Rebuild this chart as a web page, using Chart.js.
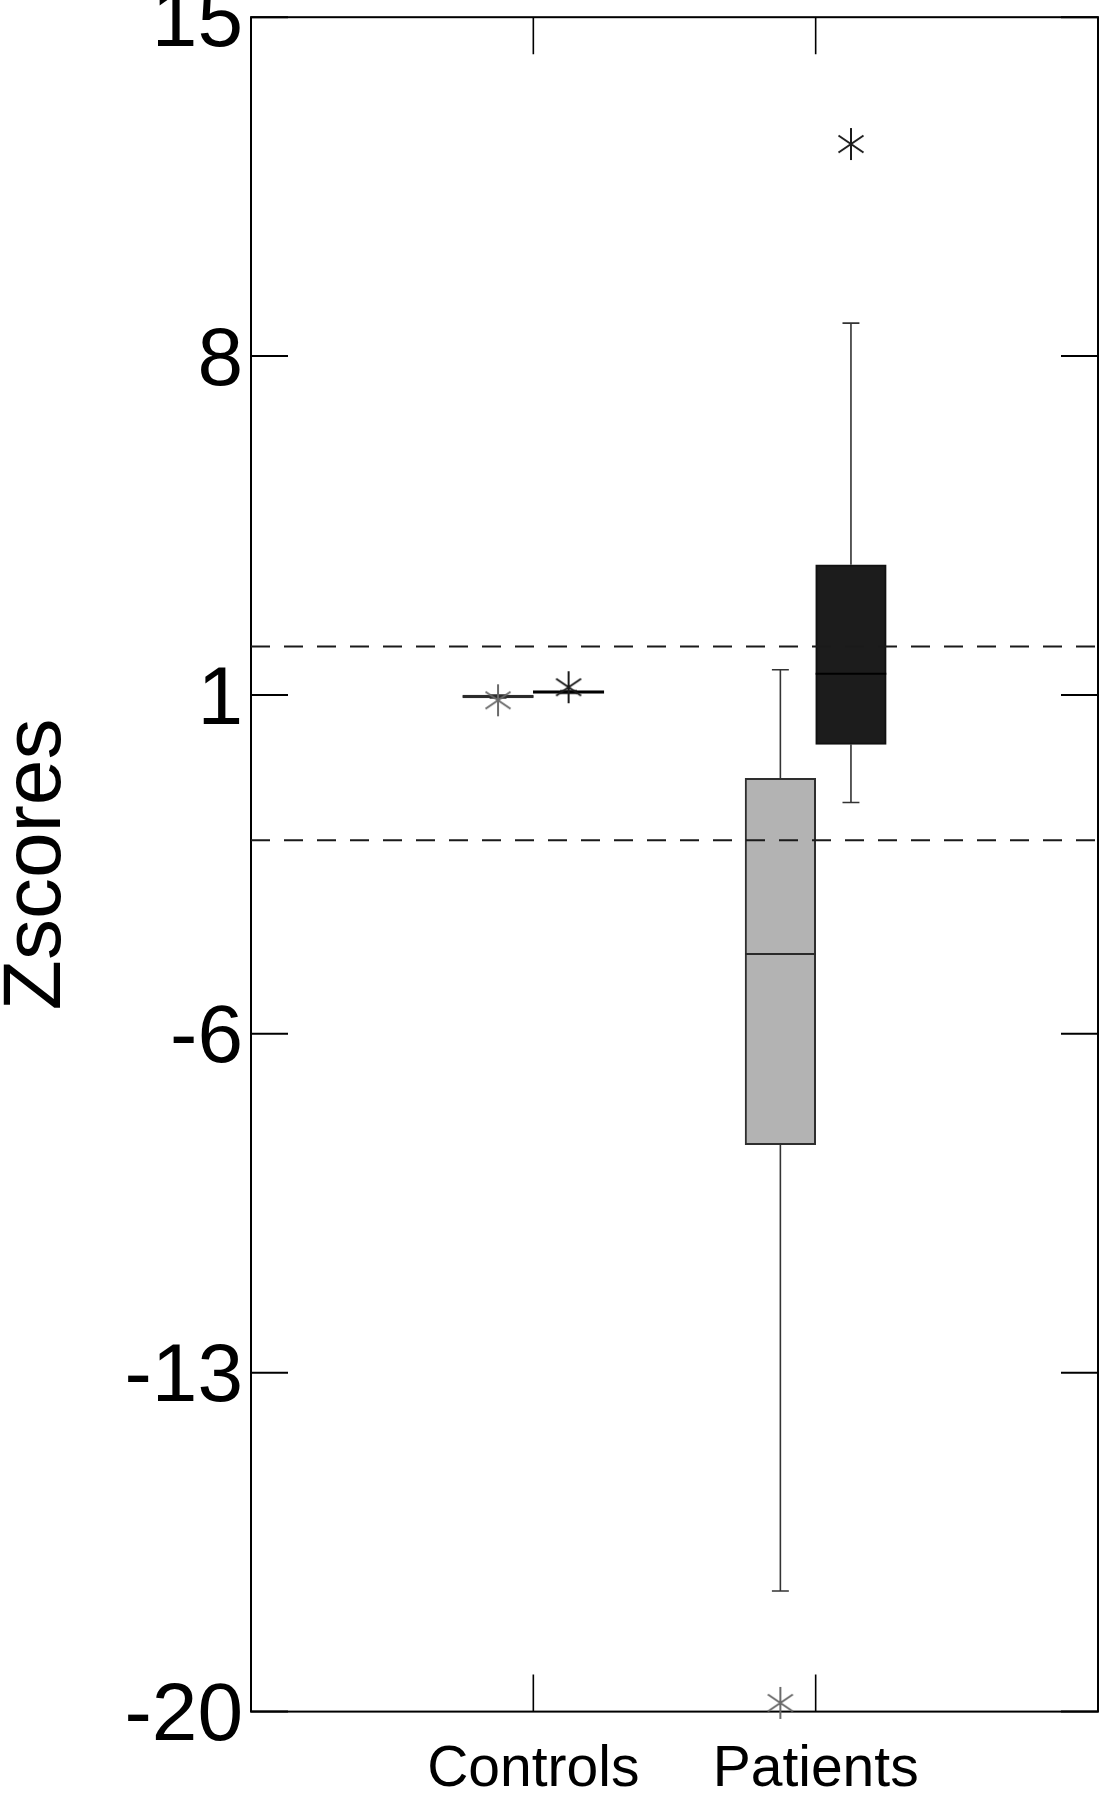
<!DOCTYPE html>
<html><head><meta charset="utf-8">
<script src="https://cdn.jsdelivr.net/npm/chart.js@4.4.1/dist/chart.umd.min.js"></script>
<style>
html,body{margin:0;padding:0;background:#fff;overflow:hidden;width:1111px;height:1800px;}
#wrap{position:absolute;left:0;top:-40px;width:1111px;height:1868px;}
</style></head><body>
<div id="wrap"><canvas id="c" width="1111" height="1868"></canvas></div>
<script>
// ---- data ----
const categories = ['Controls', 'Patients'];
const categoryPositions = [1, 2];
const xAxisRange = [0, 3];
const yAxisRange = [-20, 15];
const yTickValues = [-20, -13, -6, 1, 8, 15];
const referenceLines = [2, -2];

// light (grey) series: left box in each group
const lightLowerWhisker = [0.94, -17.51];
const lightQ1 = [0.94, -8.29];
const lightMedian = [0.97, -4.35];
const lightQ3 = [1.0, -0.72];
const lightUpperWhisker = [1.0, 1.52];
const lightOutliers = [0.89, -19.82];

// dark (black) series: right box in each group
const darkLowerWhisker = [1.03, -1.22];
const darkQ1 = [1.03, -0.02];
const darkMedian = [1.06, 1.44];
const darkQ3 = [1.09, 3.69];
const darkUpperWhisker = [1.09, 8.68];
const darkOutliers = [1.16, 12.38];

// ---- layout / style constants ----
const boxHalf = 0.125;
const capHalf = 0.03;
const tickLen = 37;
const FONT = "'Liberation Sans', Arial, sans-serif";

function makeStar(color) {
  const c = document.createElement('canvas');
  c.width = 36; c.height = 36;
  const g = c.getContext('2d');
  g.strokeStyle = color; g.lineWidth = 2; g.lineCap = 'butt';
  g.translate(18, 18);
  g.beginPath();
  g.moveTo(0, -16); g.lineTo(0, 16);
  g.moveTo(-12.5, -8.5); g.lineTo(12.5, 8.5);
  g.moveTo(-12.5, 8.5); g.lineTo(12.5, -8.5);
  g.stroke();
  return c;
}

function boxDataset(label, q1, q3, offset, fill, border) {
  return {
    type: 'bar', label,
    data: categoryPositions.map((p, i) => ({ x: p + offset, y: [q1[i], q3[i]] })),
    backgroundColor: fill, borderColor: border, borderWidth: 2, borderSkipped: false,
    grouped: false, categoryPercentage: 1, barPercentage: 1, order: 5
  };
}
function whiskerDataset(label, q1, q3, lo, hi, offset, color) {
  const pts = [];
  categoryPositions.forEach((p, i) => {
    const cx = p + offset;
    pts.push({ x: cx, y: q3[i] }, { x: cx, y: hi[i] }, { x: cx, y: null },
      { x: cx - capHalf, y: hi[i] }, { x: cx + capHalf, y: hi[i] }, { x: cx, y: null },
      { x: cx, y: q1[i] }, { x: cx, y: lo[i] }, { x: cx, y: null },
      { x: cx - capHalf, y: lo[i] }, { x: cx + capHalf, y: lo[i] }, { x: cx, y: null });
  });
  return { type: 'line', label, data: pts, borderColor: color, borderWidth: 1.6,
    pointRadius: 0, spanGaps: false, tension: 0, order: 4 };
}
function medianDataset(label, med, offset, color) {
  const pts = [];
  categoryPositions.forEach((p, i) => {
    const cx = p + offset;
    pts.push({ x: cx - boxHalf, y: med[i] }, { x: cx + boxHalf, y: med[i] }, { x: cx, y: null });
  });
  return { type: 'line', label, data: pts, borderColor: color, borderWidth: 2,
    pointRadius: 0, spanGaps: false, tension: 0, order: 2 };
}
function outlierDataset(label, vals, offset, color) {
  return { type: 'line', label, showLine: false,
    data: categoryPositions.map((p, i) => ({ x: p + offset, y: vals[i] })),
    pointStyle: makeStar(color), pointRadius: 12, clip: false, order: 0 };
}
function refLineDataset(v) {
  return { type: 'line', label: 'ref ' + v,
    data: [{ x: xAxisRange[0], y: v }, { x: xAxisRange[1], y: v }],
    borderColor: '#1a1a1a', borderWidth: 2, borderDash: [19, 14], pointRadius: 0, order: 1 };
}

const framePlugin = {
  id: 'frame',
  beforeDatasetsDraw(chart) {
    const { ctx, chartArea: a, scales: { x, y } } = chart;
    ctx.save();
    ctx.strokeStyle = '#000';
    ctx.lineWidth = 2;
    ctx.strokeRect(a.left, a.top, a.right - a.left, a.bottom - a.top);
    ctx.beginPath();
    y.ticks.forEach(t => {
      const py = y.getPixelForValue(t.value);
      ctx.moveTo(a.left, py); ctx.lineTo(a.left + tickLen, py);
      ctx.moveTo(a.right, py); ctx.lineTo(a.right - tickLen, py);
    });
    ctx.stroke();
    ctx.lineWidth = 1.6;
    ctx.beginPath();
    x.ticks.forEach(t => {
      const px = x.getPixelForValue(t.value);
      ctx.moveTo(px, a.bottom); ctx.lineTo(px, a.bottom - tickLen);
      ctx.moveTo(px, a.top); ctx.lineTo(px, a.top + tickLen);
    });
    ctx.stroke();
    ctx.restore();
  }
};

new Chart(document.getElementById('c'), {
  data: {
    datasets: [
      outlierDataset('light outliers', lightOutliers, -boxHalf, '#6a6a6a'),
      outlierDataset('dark outliers', darkOutliers, boxHalf, '#1a1a1a'),
      ...referenceLines.map(refLineDataset),
      medianDataset('light median', lightMedian, -boxHalf, '#2a2a2a'),
      medianDataset('dark median', darkMedian, boxHalf, '#000'),
      whiskerDataset('light whiskers', lightQ1, lightQ3, lightLowerWhisker, lightUpperWhisker, -boxHalf, '#333'),
      whiskerDataset('dark whiskers', darkQ1, darkQ3, darkLowerWhisker, darkUpperWhisker, boxHalf, '#333'),
      boxDataset('light boxes', lightQ1, lightQ3, -boxHalf, '#b3b3b3', '#2e2e2e'),
      boxDataset('dark boxes', darkQ1, darkQ3, boxHalf, '#1c1c1c', '#111')
    ]
  },
  options: {
    responsive: false,
    animation: false,
    devicePixelRatio: 1,
    layout: { padding: { top: 0, right: 9, bottom: 0, left: 0 } },
    plugins: { legend: { display: false }, tooltip: { enabled: false } },
    scales: {
      x: {
        type: 'linear', min: xAxisRange[0], max: xAxisRange[1], offset: false,
        grid: { display: false, drawTicks: false }, border: { display: false },
        afterBuildTicks: s => { s.ticks = categoryPositions.map(v => ({ value: v })); },
        ticks: {
          padding: 24, color: '#000', maxRotation: 0, autoSkip: false,
          font: { family: FONT, size: 57 },
          callback: (v, i) => categories[i]
        }
      },
      y: {
        type: 'linear', min: yAxisRange[0], max: yAxisRange[1],
        grid: { display: false, drawTicks: false }, border: { display: false },
        afterBuildTicks: s => { s.ticks = yTickValues.map(v => ({ value: v })); },
        afterFit: s => { s.width = 251; },
        ticks: { padding: 8, labelOffset: 6, color: '#000', font: { family: FONT, size: 82 }, callback: v => String(v) },
        title: { display: true, text: 'Zscores', color: '#000', padding: 0,
          font: { family: FONT, size: 82, lineHeight: 0.92 } }
      }
    }
  },
  plugins: [framePlugin]
});
</script>
</body></html>
